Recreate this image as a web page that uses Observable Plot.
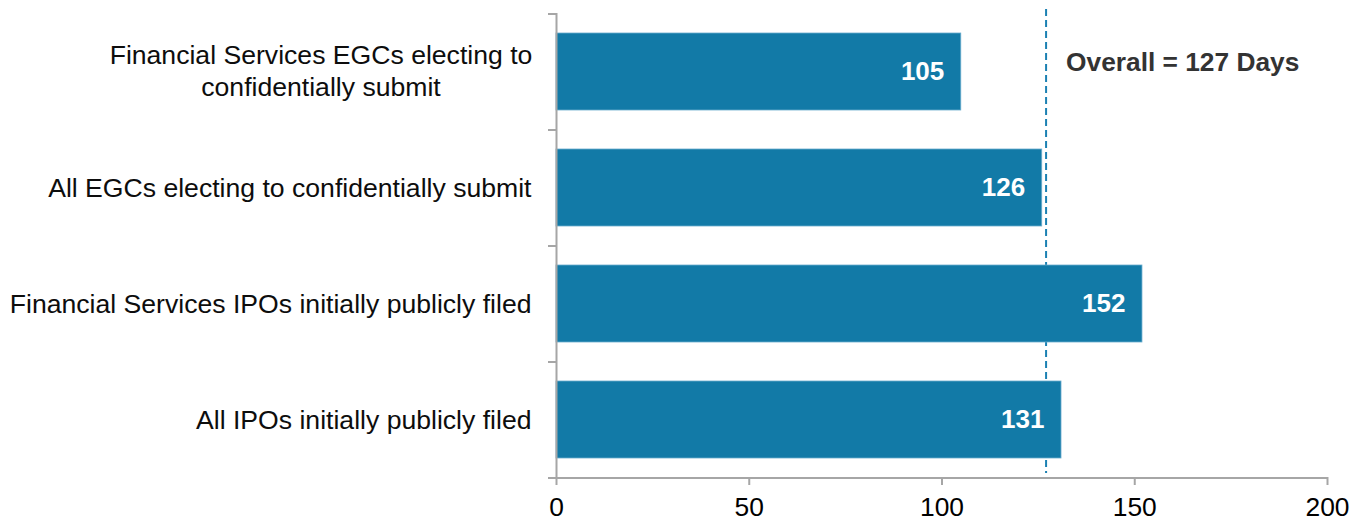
<!DOCTYPE html>
<html>
<head>
<meta charset="utf-8">
<script src="https://cdn.jsdelivr.net/npm/d3@7"></script>
<script src="https://cdn.jsdelivr.net/npm/@observablehq/plot@0.6"></script>
<style>
  html, body { margin: 0; padding: 0; background: #fff; }
  #chart svg { display: block; }
</style>
</head>
<body>
<div id="chart"></div>
<script>
const categories = [
  "Financial Services EGCs electing to\nconfidentially submit",
  "All EGCs electing to confidentially submit",
  "Financial Services IPOs initially publicly filed",
  "All IPOs initially publicly filed"
];
const values = [105, 126, 152, 131];
const overallValue = 127;
const overallLabel = "Overall = 127 Days";
const xTicks = [0, 50, 100, 150, 200];

const data = categories.map((c, i) => ({category: c, value: values[i]}));
const multi = data.filter(d => d.category.includes("\n"));
const single = data.filter(d => !d.category.includes("\n"));

const axisColor = "#a6a6a6";
const barColor = "#127aa7";
const font = "'Liberation Sans', Arial, sans-serif";

const chart = Plot.plot({
  width: 1366,
  height: 523,
  marginLeft: 556,
  marginRight: 39,
  marginTop: 13,
  marginBottom: 46,
  style: {fontFamily: font, fontSize: "26px", background: "#fff", color: "#000"},
  x: {domain: [0, 200], axis: null},
  y: {domain: categories, paddingInner: 0.34, paddingOuter: 0.17, axis: null},
  marks: [
    // overall dashed line (behind bars)
    Plot.ruleX([overallValue], {stroke: "#1b80b2", strokeWidth: 2, strokeDasharray: "7,4", insetTop: -4, insetBottom: 4}),
    Plot.barX(data, {y: "category", x: "value", fill: barColor, stroke: "#6aaccd", strokeWidth: 0.8}),
    // x axis
    Plot.axisX({ticks: xTicks, tickSize: 8, tickPadding: 12, fontSize: 26.4, stroke: axisColor, strokeWidth: 2, color: "#000", fill: "#000", label: null}),
    Plot.ruleY([categories[categories.length - 1]], {x1: 0, x2: 200, insetLeft: -8, dy: 58, stroke: axisColor, strokeWidth: 2}),
    // y axis line and boundary ticks
    Plot.ruleX([0], {stroke: axisColor, strokeWidth: 2}),
    Plot.ruleY(categories, {x1: 0, x2: 0, insetLeft: -8, dy: 58, stroke: axisColor, strokeWidth: 2}),
    Plot.ruleY([categories[0]], {x1: 0, x2: 0, insetLeft: -8, dy: -58, stroke: axisColor, strokeWidth: 2}),
    // category labels
    Plot.text(single, {x: 0, y: "category", text: "category", textAnchor: "end", dx: -25, fontSize: 26.6, fill: "#0d0d0d"}),
    Plot.text(multi, {x: 0, y: "category", text: "category", textAnchor: "middle", dx: -235.5, dy: -2, fontSize: 26.6, lineHeight: 1.2, fill: "#0d0d0d"}),
    Plot.text([overallLabel], {x: overallValue, y: [categories[0]], text: d => d, textAnchor: "start", dx: 20, dy: -9, fontSize: 26.3, fontWeight: "bold", fill: "#333"}),
    // value labels
    Plot.text(data, {y: "category", x: "value", text: d => String(d.value), textAnchor: "end", dx: -17, fill: "#fff", fontWeight: "bold", fontSize: 26})
  ]
});
document.getElementById("chart").append(chart);
</script>
</body>
</html>
